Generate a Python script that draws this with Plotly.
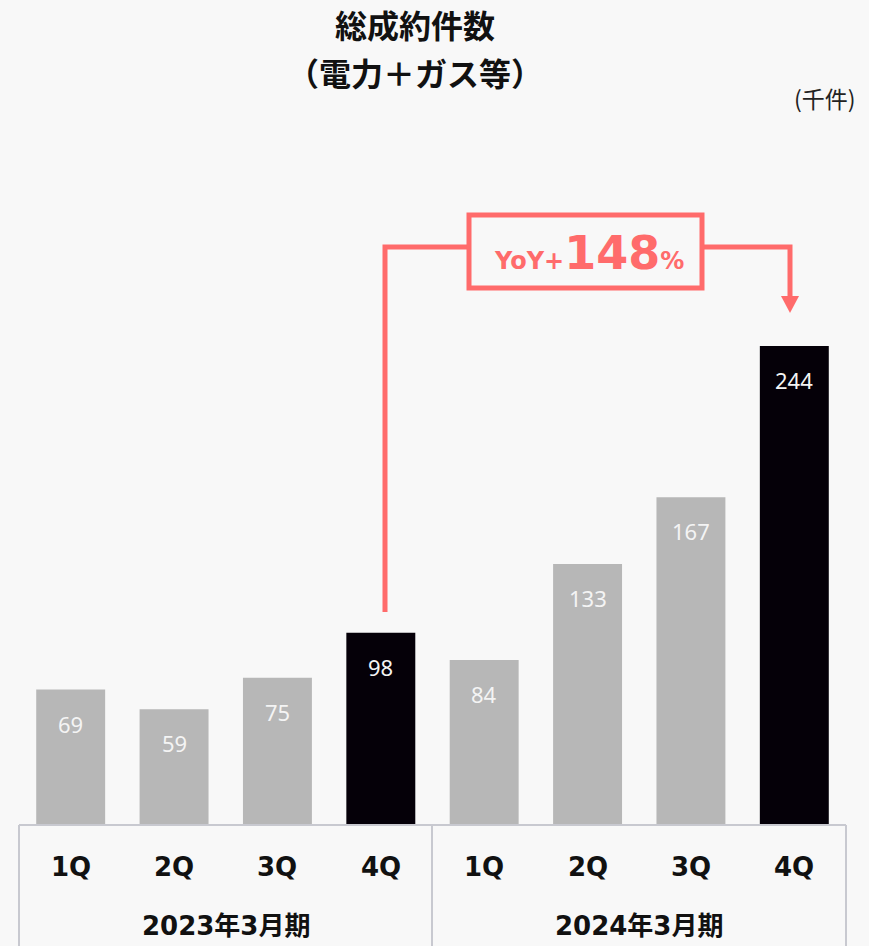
import plotly.graph_objects as go

quarters = ["1Q", "2Q", "3Q", "4Q", "1Q", "2Q", "3Q", "4Q"]
fiscal_years = ["2023年3月期", "2024年3月期"]
values = [69, 59, 75, 98, 84, 133, 167, 244]
highlight = [False, False, False, True, False, False, False, True]
title_lines = ["総成約件数", "（電力＋ガス等）"]
unit_label = "(千件)"

BG = "#F8F8F8"
GRAY = "#B7B7B7"
DARK = "#050008"
RED = "#FF6B6B"
LINE = "#C8C9D0"

W, H = 869, 946
L, R, T, B = 19, 23, 100, 121
plot_h = H - T - B
px_per_unit = 1.963
ymax = plot_h / px_per_unit

x = list(range(len(values)))
colors = [DARK if h else GRAY for h in highlight]

fig = go.Figure()
fig.add_trace(go.Bar(x=x, y=values, marker=dict(color=colors, line=dict(width=0)),
                     width=0.667, hoverinfo="skip"))

ann = []
for i, v in enumerate(values):
    ann.append(dict(x=i, y=v, xref="x", yref="y", text=str(v), showarrow=False,
                    yanchor="middle", yshift=-34,
                    font=dict(family="Noto Sans", size=22, color="#F4F4F4")))

def py(p):
    return (H - B - p) / plot_h

for i, q in enumerate(quarters):
    ann.append(dict(x=i, y=py(867), xref="x", yref="paper", text="<b>%s</b>" % q,
                    showarrow=False, yanchor="middle",
                    font=dict(family="DejaVu Sans, Noto Sans CJK JP", size=26, color="#111111")))
for g, fy in enumerate(fiscal_years):
    ann.append(dict(x=1.5 + 4 * g, y=py(926), xref="x", yref="paper", text="<b>%s</b>" % fy,
                    showarrow=False, yanchor="middle",
                    font=dict(family="DejaVu Sans, Noto Sans CJK JP", size=26, color="#111111")))

# title (two lines, stacked around a shared boundary)
for line_txt, anchor in zip(title_lines, ["bottom", "top"]):
    ann.append(dict(x=(415 - L) / (W - L - R), y=py(48), xref="paper", yref="paper",
                    text="<b>%s</b>" % line_txt, showarrow=False,
                    yanchor=anchor, align="center", borderpad=0,
                    font=dict(family="Noto Sans CJK JP", size=32, color="#111111")))
ann.append(dict(x=1.0, y=py(98), xref="paper", yref="paper", text=unit_label,
                showarrow=False, xanchor="right", yanchor="middle", xshift=12,
                font=dict(family="Noto Sans CJK JP", size=23, color="#222222")))

# YoY callout
def dx(p):
    return (p - L) / ((W - L - R) / len(values)) - 0.5

def dy(p):
    return (H - B - p) / px_per_unit

ann.append(dict(x=dx(589), y=dy(253), xref="x", yref="y",
                text="<b>YoY+<span style='font-size:46px'>148</span>%</b>",
                showarrow=False, yanchor="middle",
                font=dict(family="DejaVu Sans", size=24, color=RED)))

shapes = []
lw = 5
shapes.append(dict(type="path", xref="x", yref="y",
                   path="M %f %f L %f %f L %f %f" % (dx(385), dy(612), dx(385), dy(247), dx(468), dy(247)),
                   line=dict(color=RED, width=lw)))
shapes.append(dict(type="path", xref="x", yref="y",
                   path="M %f %f L %f %f L %f %f" % (dx(703), dy(247), dx(790), dy(247), dx(790), dy(298)),
                   line=dict(color=RED, width=lw)))
shapes.append(dict(type="rect", xref="x", yref="y", x0=dx(469), x1=dx(702), y0=dy(288), y1=dy(215),
                   line=dict(color=RED, width=lw), fillcolor=BG))
shapes.append(dict(type="path", xref="x", yref="y",
                   path="M %f %f L %f %f L %f %f Z" % (dx(781), dy(296), dx(799), dy(296), dx(790), dy(313)),
                   line=dict(color=RED, width=0), fillcolor=RED))

# table lines
shapes.append(dict(type="line", xref="paper", yref="paper", x0=0, x1=1, y0=0, y1=0,
                   line=dict(color=LINE, width=2)))
for xp in [0, (432 - L) / (W - L - R), 1]:
    shapes.append(dict(type="line", xref="paper", yref="paper", x0=xp, x1=xp, y0=0, y1=py(950),
                       line=dict(color=LINE, width=2)))

fig.update_layout(
    width=W, height=H,
    margin=dict(l=L, r=R, t=T, b=B),
    paper_bgcolor=BG, plot_bgcolor=BG,
    showlegend=False,
    xaxis=dict(range=[-0.5, len(values) - 0.5], showticklabels=False, showgrid=False,
               zeroline=False, showline=False, ticks=""),
    yaxis=dict(range=[0, ymax], showticklabels=False, showgrid=False, zeroline=False,
               showline=False, ticks=""),
    annotations=ann, shapes=shapes,
)

fig.write_html("out.html")
